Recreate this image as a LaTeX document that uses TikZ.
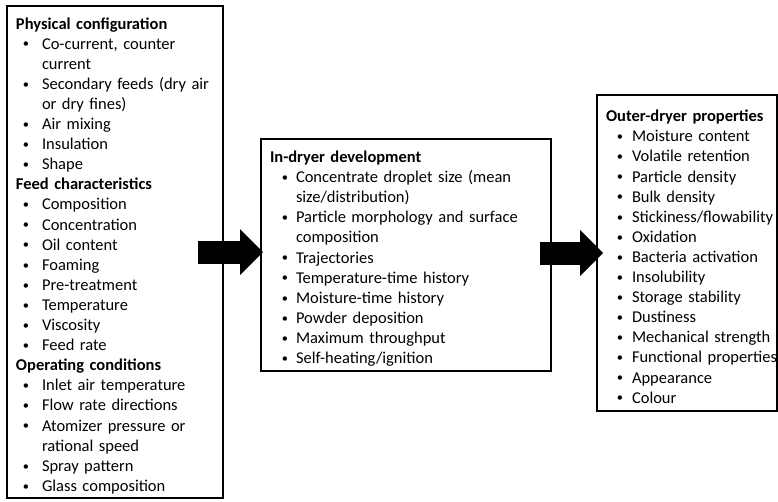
\documentclass[tikz,border=0pt]{standalone}
\usepackage{graphicx}
\usepackage{fontspec}
\setmainfont{Carlito}
\usetikzlibrary{positioning,arrows.meta}
% one bullet line, one wrapped line, one heading
\newcommand{\itm}[1]{\mbox{\hspace*{\bulpos}\makebox[0pt]{\raisebox{1.2pt}{\scalebox{0.75}{\textbullet}}}\hspace*{\dimexpr26pt-\bulpos\relax}#1}}
\newcommand{\cnt}[1]{\mbox{\hspace*{26pt}#1}}
\newcommand{\hd}[1]{\mbox{\bfseries #1}}
\newcommand{\listfont}{\fontsize{16.5}{20.1}\selectfont}
\tikzset{
  list-box/.style={draw=black,line width=1.6pt,outer sep=0pt,align=left,
    inner xsep=9pt,inner ysep=0pt,font=\listfont\def\bulpos{#1},
    execute at begin node={\rule{0pt}{19pt}}},
  list-box/.default=15pt,
  flow/.style={line width=23pt,-{Triangle[length=23pt,width=46pt,line width=0pt]}},
}
\begin{document}
\begin{tikzpicture}[x=1pt,y=-1pt]
  \useasboundingbox (0,0) rectangle (778,501);
  \node[list-box=10pt,minimum height=492pt,text width=198pt,anchor=north west] (phys) at (7,6) {%
    \hd{Physical configuration}\\
    \itm{Co-current, counter}\\
    \cnt{current}\\
    \itm{Secondary feeds (dry air}\\
    \cnt{or dry fines)}\\
    \itm{Air mixing}\\
    \itm{Insulation}\\
    \itm{Shape}\\
    \hd{Feed characteristics}\\
    \itm{Composition}\\
    \itm{Concentration}\\
    \itm{Oil content}\\
    \itm{Foaming}\\
    \itm{Pre-treatment}\\
    \itm{Temperature}\\
    \itm{Viscosity}\\
    \itm{Feed rate}\\
    \hd{Operating conditions}\\
    \itm{Inlet air temperature}\\
    \itm{Flow rate directions}\\
    \itm{Atomizer pressure or}\\
    \cnt{rational speed}\\
    \itm{Spray pattern}\\
    \itm{Glass composition}};
  \node[list-box,minimum height=232pt,text width=272pt,right=38pt of phys,yshift=-3pt] (indry) {%
    \hd{In-dryer development}\\
    \itm{Concentrate droplet size (mean}\\
    \cnt{size/distribution)}\\
    \itm{Particle morphology and surface}\\
    \cnt{composition}\\
    \itm{Trajectories}\\
    \itm{Temperature-time history}\\
    \itm{Moisture-time history}\\
    \itm{Powder deposition}\\
    \itm{Maximum throughput}\\
    \itm{Self-heating/ignition}};
  \node[list-box=14pt,minimum height=316pt,text width=162pt,right=46pt of indry,yshift=2pt] (outer) {%
    \hd{Outer-dryer properties}\\
    \itm{Moisture content}\\
    \itm{Volatile retention}\\
    \itm{Particle density}\\
    \itm{Bulk density}\\
    \itm{Stickiness/flowability}\\
    \itm{Oxidation}\\
    \itm{Bacteria activation}\\
    \itm{Insolubility}\\
    \itm{Storage stability}\\
    \itm{Dustiness}\\
    \itm{Mechanical strength}\\
    \itm{Functional properties}\\
    \itm{Appearance}\\
    \itm{Colour}};
  \draw[flow,shorten <=-25pt,shorten >=-2pt] (phys.east) -- (phys.east -| indry.west);
  \draw[flow,shorten <=-11pt,shorten >=-6pt] (outer.west -| indry.east) -- (outer.west);
\end{tikzpicture}
\end{document}
